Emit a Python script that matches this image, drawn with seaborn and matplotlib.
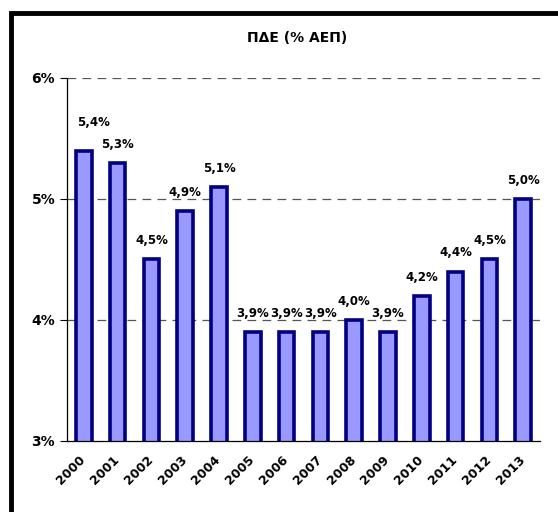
import matplotlib
matplotlib.use("Agg")
import matplotlib.pyplot as plt
import matplotlib.transforms as mtransforms
import seaborn as sns
import pandas as pd
from matplotlib.patches import Rectangle

years = ["2000", "2001", "2002", "2003", "2004", "2005", "2006", "2007",
         "2008", "2009", "2010", "2011", "2012", "2013"]
values = [5.4, 5.3, 4.5, 4.9, 5.1, 3.9, 3.9, 3.9, 4.0, 3.9, 4.2, 4.4, 4.5, 5.0]
yticks = [3, 4, 5, 6]
ytick_labels = ["3%", "4%", "5%", "6%"]
title = "ΠΔΕ (% ΑΕΠ)"

sns.set_style("white")
plt.rcParams['font.family'] = ['DejaVu Sans']
plt.rcParams['text.color'] = 'black'
plt.rcParams['xtick.color'] = 'black'
plt.rcParams['ytick.color'] = 'black'

df = pd.DataFrame({"year": years, "value": values})

fig = plt.figure(figsize=(5.58, 5.12), dpi=100)
ax = fig.add_axes([0.120, 0.1387, 0.848, 0.709])

sns.barplot(data=df, x="year", y="value", ax=ax, color="#9999FF",
            edgecolor="#000080", linewidth=2.6, width=0.46, saturation=1)

ax.set_ylim(3, 6)
ax.set_xlim(-0.5, len(years) - 0.5)
ax.set_yticks(yticks)
ax.set_yticklabels(ytick_labels, fontweight="bold", fontsize=10)
for y in [4, 5, 6]:
    ax.axhline(y, color="#555555", linestyle=(0, (7, 5)), linewidth=0.9, zorder=0)

ax.set_xticks(range(len(years)))
ax.set_xticklabels(years, rotation=45, ha="right", rotation_mode="anchor",
                   fontweight="bold", fontsize=9)
ax.tick_params(axis="x", which="major", length=0, pad=9)
shift = mtransforms.ScaledTranslation(-5 / 100, 0, fig.dpi_scale_trans)
for lbl in ax.get_xticklabels():
    lbl.set_transform(lbl.get_transform() + shift)
ax.set_xticks([i - 0.5 for i in range(len(years) + 1)], minor=True)
ax.tick_params(axis="x", which="minor", length=4, width=0.8, color="black", direction="out")
ax.tick_params(axis="y", length=5, width=0.8, color="black", direction="out", left=True)

ax.set_xlabel("")
ax.set_ylabel("")
for s in ["top", "right"]:
    ax.spines[s].set_visible(False)
for s in ["left", "bottom"]:
    ax.spines[s].set_color("black")
    ax.spines[s].set_linewidth(0.9)

for i, v in enumerate(values):
    off = 0.18 if v >= 5.35 else 0.10
    dx = 0.3 if i == 0 else 0.0
    ax.text(i + dx, v + off, f"{v:.1f}%".replace(".", ","), ha="center", va="bottom",
            fontsize=8.5, fontweight="bold", color="black")

fig.text(0.532, 0.925, title, ha="center", va="center", fontsize=10, fontweight="bold")

fig.patches.append(Rectangle((0.0197, -0.05), 1.1, 1.025, transform=fig.transFigure,
                             fill=False, edgecolor="black", linewidth=3.5))

fig.savefig("out.png", dpi=100)
